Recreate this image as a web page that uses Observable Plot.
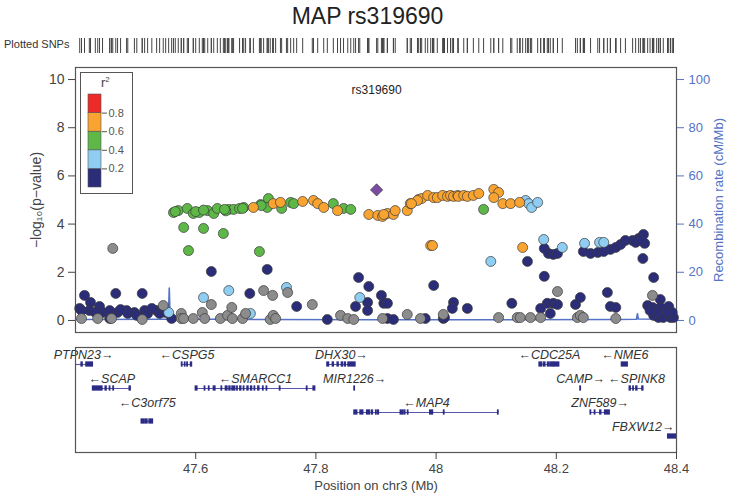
<!DOCTYPE html>
<html><head><meta charset="utf-8">
<script src="https://cdn.jsdelivr.net/npm/d3@7"></script>
<script src="https://cdn.jsdelivr.net/npm/@observablehq/plot@0.6"></script>
<style>
body{margin:0;background:#fff;}
#wrap{position:relative;width:735px;height:496px;font-family:"Liberation Sans",Arial,sans-serif;color:#222;overflow:hidden;}
.abs{position:absolute;}
</style></head>
<body><div id="wrap"></div>
<script>
// ---------------- DATA ----------------
const title = "MAP rs319690";
const indexSNP = {name: "rs319690", pos: 47.901, logp: 5.42};
const xTicks = [47.6, 47.8, 48.0, 48.2, 48.4];
const yTicks = [0, 2, 4, 6, 8, 10];
const recombTicks = [0, 20, 40, 60, 80, 100];
const r2Breaks = [0, 0.2, 0.4, 0.6, 0.8, 1.0];
const r2Colors = ["#2b2d78", "#8fcdf2", "#5db848", "#f9a431", "#ec2a26"];
const naColor = "#8c8c8c";

// SNPs by LD bin: [position (Mb), -log10 p]
const snpsR2_0_02 = [
 [47.407,0.50],[47.415,1.04],[47.425,0.75],[47.423,0.41],[47.440,0.58],[47.445,0.33],[47.457,0.41],[47.457,0.08],
 [47.467,1.12],[47.470,0.33],[47.485,0.41],[47.487,0.29],[47.498,0.33],[47.502,0.21],[47.511,1.12],[47.515,0.41],
 [47.520,0.29],[47.535,0.41],[47.540,0.29],[47.560,0.08],[47.410,0.41],[47.433,0.33],[47.475,0.45],[47.527,0.50],
 [47.550,0.33],[47.626,2.03],[47.719,2.12],[47.690,1.12],[47.768,0.58],[47.819,0.04],[47.871,1.78],[47.888,1.41],
 [47.866,0.58],[47.886,0.75],[47.886,0.41],[47.909,1.04],[47.913,0.71],[47.919,0.71],[47.919,0.08],[47.929,0.04],
 [47.982,0.08],[47.996,1.45],[48.012,0.08],[48.029,0.75],[48.027,0.50],[48.052,0.50],[48.014,0.12],[48.126,0.71],
 [48.152,2.45],[48.180,2.99],[48.187,2.78],[48.195,2.74],[48.202,2.78],[48.180,1.83],[48.185,0.71],[48.195,0.71],
 [48.202,0.66],[48.174,0.50],[48.190,0.29],[48.245,2.86],[48.257,2.78],[48.269,2.82],[48.279,2.86],[48.290,2.95],
 [48.299,3.03],[48.307,3.15],[48.315,3.32],[48.327,3.32],[48.337,3.40],[48.345,3.57],[48.347,3.20],[48.344,2.57],
 [48.332,3.24],[48.340,3.32],[48.240,0.95],[48.232,0.66],[48.285,1.16],[48.290,0.58],[48.299,0.54],[48.362,1.78],
 [48.352,0.62],[48.360,0.54],[48.373,0.87],[48.373,0.54],[48.387,0.58],[48.362,0.21],[48.370,0.12],[48.378,0.12],
 [48.390,0.12],[48.395,0.12],[48.367,0.33],[48.385,0.33],[48.393,0.33],[48.356,0.41]
];
const snpsR2_02_04 = [
 [47.555,0.33],[47.613,0.95],[47.655,1.24],[47.691,0.29],[47.751,1.37],[47.873,0.95],[48.091,2.45],[48.149,4.98],
 [48.154,4.85],[48.159,4.69],[48.169,4.90],[48.179,3.36],[48.210,3.03],[48.247,3.20],[48.272,3.24],[48.279,3.24]
];
const snpsR2_04_06 = [
 [47.563,4.48],[47.571,4.56],[47.586,4.65],[47.596,4.44],[47.606,4.48],[47.620,4.56],[47.630,4.44],[47.636,4.65],
 [47.655,4.61],[47.663,4.61],[47.673,4.65],[47.680,4.69],[47.708,4.81],[47.721,5.06],[47.719,4.69],[47.743,4.65],
 [47.758,4.90],[47.763,4.85],[47.829,4.85],[47.846,4.65],[47.858,4.61],[48.079,4.61],[47.580,3.86],[47.613,3.82],
 [47.646,3.61],[47.588,2.90],[47.706,2.86],[47.566,4.52],[47.600,4.52],[47.613,4.58],[47.650,4.55],[47.648,4.61],
 [47.678,4.65],[47.709,4.77]
];
const snpsR2_06_08 = [
 [47.696,4.69],[47.729,4.85],[47.741,4.90],[47.778,4.94],[47.796,4.98],[47.803,4.85],[47.813,4.69],[47.836,4.56],
 [47.888,4.40],[47.903,4.36],[47.911,4.32],[47.919,4.44],[47.929,4.40],[47.932,4.56],[47.913,4.40],[47.952,4.56],
 [47.957,4.85],[47.971,5.02],[47.976,5.06],[47.986,5.19],[47.996,5.10],[48.002,5.10],[48.011,5.19],[48.019,5.15],
 [48.024,5.19],[48.029,5.15],[48.036,5.19],[48.037,5.15],[48.046,5.19],[48.052,5.15],[48.062,5.19],[48.071,5.27],
 [48.096,5.44],[48.104,5.31],[48.096,5.10],[48.111,4.85],[48.124,4.85],[48.139,4.90],[47.991,3.11],[47.994,3.11],
 [48.144,3.03],[47.969,4.98],[47.959,4.85]
];
const snpsR2_NA = [
 [47.462,2.99],[47.410,0.08],[47.437,0.08],[47.460,0.08],[47.511,0.04],[47.546,0.62],[47.576,0.29],[47.576,0.08],
 [47.580,0.08],[47.596,0.08],[47.611,0.33],[47.615,0.08],[47.626,0.66],[47.641,0.08],[47.653,0.21],[47.660,0.54],
 [47.661,0.08],[47.678,0.08],[47.683,0.29],[47.713,1.24],[47.728,1.04],[47.753,1.16],[47.724,0.04],[47.729,0.21],
 [47.733,0.08],[47.794,0.66],[47.841,0.21],[47.853,0.08],[47.863,0.04],[47.911,0.08],[47.952,0.25],[47.974,0.08],
 [48.012,0.25],[48.104,0.12],[48.135,0.12],[48.140,0.12],[48.157,0.12],[48.174,0.12],[48.202,1.20],[48.235,0.12],
 [48.240,0.21],[48.245,0.12],[48.299,0.08],[48.360,1.04]
];

// recombination rate: [position (Mb), cM/Mb]
const recombPos  = [47.400,47.550,47.5545,47.556,47.5575,47.700,47.900,48.100,48.300,48.3335,48.335,48.3365,48.400];
const recombRate = [0.4,   0.5,   0.5,    13.4,  0.6,    0.4,   0.3,   0.3,   0.4,   0.5,    2.8,   0.6,    0.5];

// genes: name, start, end, strand, row, labelRow
const geneNames  = ["PTPN23","CSPG5","DHX30","CDC25A","NME6","SCAP","SMARCC1","MIR1226","CAMP","SPINK8","C3orf75","MAP4","ZNF589","FBXW12"];
const geneStart  = [47.398,47.577,47.819,48.172,48.309,47.429,47.600,47.864,48.240,48.322,47.510,47.864,48.257,48.386];
const geneEnd    = [47.429,47.594,47.866,48.205,48.319,47.492,47.799,47.865,48.241,48.345,47.529,48.104,48.289,48.401];
const geneStrand = ["+","-","+","-","-","-","-","+","+","-","-","-","+","+"];
const geneRow    = [1,1,1,1,1,2,2,2,2,2,3.375,3,3,4];
const geneLabelRow=[1,1,1,1,1,2,2,2,2,2,3,3,3,4];
// exons: [gene index, start, end]
const exons = [
 [0,47.410,47.412],[0,47.418,47.429],
 [1,47.577,47.578],[1,47.582,47.583],[1,47.586,47.587],[1,47.592,47.594],
 [2,47.819,47.822],[2,47.828,47.830],[2,47.836,47.838],[2,47.843,47.845],[2,47.848,47.850],[2,47.854,47.866],
 [3,48.172,48.176],[3,48.179,48.182],[3,48.186,48.188],[3,48.190,48.196],[3,48.197,48.205],
 [4,48.309,48.319],
 [5,47.429,47.445],[5,47.450,47.452],[5,47.457,47.458],[5,47.463,47.464],[5,47.490,47.492],
 [6,47.600,47.603],[6,47.615,47.616],[6,47.622,47.623],[6,47.630,47.633],[6,47.643,47.644],[6,47.650,47.653],
 [6,47.656,47.658],[6,47.661,47.666],[6,47.669,47.670],[6,47.674,47.676],[6,47.680,47.681],[6,47.686,47.688],
 [6,47.692,47.694],[6,47.698,47.699],[6,47.704,47.706],[6,47.712,47.713],[6,47.718,47.719],[6,47.740,47.741],
 [6,47.785,47.786],[6,47.796,47.799],
 [7,47.864,47.865],
 [8,48.240,48.241],
 [9,48.322,48.324],[9,48.328,48.329],[9,48.333,48.335],[9,48.343,48.345],
 [10,47.510,47.514],[10,47.516,47.520],[10,47.523,47.529],
 [11,47.864,47.869],[11,47.874,47.879],[11,47.885,47.890],[11,47.893,47.895],[11,47.900,47.901],[11,47.903,47.905],
 [11,47.941,47.946],[11,47.948,47.949],[11,47.953,47.954],[11,47.990,47.995],[11,48.013,48.014],[11,48.103,48.104],
 [12,48.257,48.258],[12,48.264,48.265],[12,48.273,48.275],[12,48.281,48.289],
 [13,48.386,48.401]
];

// ---------------- BUILD ----------------
const FONT = "'Liberation Sans', Arial, sans-serif";
const BLUE = "#5473c6";
const wrap = document.getElementById("wrap");
const bins = [snpsR2_0_02, snpsR2_02_04, snpsR2_04_06, snpsR2_06_08];
const snps = [];
bins.forEach((arr, i) => arr.forEach(([pos, logp]) => snps.push({pos, logp, r2: (r2Breaks[i] + r2Breaks[i+1]) / 2})));
snpsR2_NA.forEach(([pos, logp]) => snps.push({pos, logp, r2: null}));
const colorOf = d => {
  if (d.r2 == null) return naColor;
  for (let i = 0; i < r2Colors.length; i++) if (d.r2 < r2Breaks[i+1]) return r2Colors[i];
  return r2Colors[r2Colors.length - 1];
};
const recomb = recombPos.map((p, i) => ({pos: p, rate: recombRate[i]}));
const genes = geneNames.map((n, i) => ({name: n, start: geneStart[i], end: geneEnd[i], strand: geneStrand[i], row: geneRow[i], labelRow: geneLabelRow[i],
  label: geneStrand[i] === "+" ? n + "\u2192" : "\u2190" + n}));
const exonRows = exons.map(([g, s, e]) => ({row: genes[g].row, start: s, end: e}));
const xDomain = [47.4, 48.4];
const ML = 75, MR = 59;

function place(el, left, top) { el.classList.add("abs"); el.style.left = left + "px"; el.style.top = top + "px"; wrap.appendChild(el); return el; }

// title
const t = document.createElement("div");
t.textContent = title;
t.style.cssText = "width:735px;text-align:center;font-size:23px;color:#222;";
place(t, 0, 3);

const ps = document.createElement("div");
ps.textContent = "Plotted SNPs";
ps.style.cssText = "font-size:11px;color:#333;";
place(ps, 4, 38);

// rug of plotted SNPs
const allPos = snps.map(d => d.pos).concat([indexSNP.pos]);
const rug = Plot.plot({
  width: 735, height: 15, marginLeft: ML, marginRight: MR, marginTop: 0, marginBottom: 0,
  x: {domain: xDomain, axis: null}, y: {axis: null},
  style: {background: "transparent"},
  marks: [Plot.tickX(allPos, {x: d => d, stroke: "#444", strokeWidth: 1})]
});
place(rug, 0, 38);

// main plot
const main = Plot.plot({
  width: 735, height: 285, marginLeft: ML, marginRight: MR, marginTop: 7, marginBottom: 13,
  x: {domain: xDomain, axis: null},
  y: {domain: [-0.5, 10.5], axis: null},
  style: {background: "transparent", fontFamily: FONT, fontSize: "13px", color: "#333"},
  marks: [
    Plot.frame({stroke: "#555", strokeWidth: 1.2}),
    Plot.axisY({ticks: yTicks, tickSize: 7, tickPadding: 4, fontSize: 14, color: "#444",
      label: "\u2212log\u2081\u2080(p\u2212value)", labelAnchor: "center", labelArrow: "none", labelOffset: 44}),
    Plot.axisY({anchor: "right", ticks: recombTicks.map(v => v / 10), tickFormat: d => String(Math.round(d * 10)),
      tickSize: 7, tickPadding: 5, fontSize: 13, color: BLUE,
      label: "Recombination rate (cM/Mb)", labelAnchor: "center", labelArrow: "none", labelOffset: 46}),
    Plot.line(recomb, {x: "pos", y: d => d.rate / 10, stroke: BLUE, strokeWidth: 1.6}),
    Plot.dot(snps, {x: "pos", y: "logp", r: 5, fill: colorOf, stroke: "#3a3a3a", strokeWidth: 0.7}),
    Plot.dot([indexSNP], {x: "pos", y: "logp", symbol: "diamond2", r: 5.5, fill: "#7a4ca2", stroke: "#3a3a3a", strokeWidth: 0.7}),
    Plot.text([indexSNP], {x: "pos", frameAnchor: "top", dy: 18, text: "name", fontSize: 12, fill: "#222"})
  ]
});
place(main, 0, 60);

// legend
const legBox = document.createElement("div");
legBox.style.cssText = "width:51px;height:120px;border:1px solid #555;background:#fff;";
place(legBox, 80, 72);
const legTitle = document.createElement("div");
legTitle.innerHTML = "r<sup style='font-size:8px'>2</sup>";
legTitle.style.cssText = "position:absolute;left:20px;top:2px;font-size:13px;color:#444;";
legBox.appendChild(legTitle);
const legData = r2Colors.map((c, i) => ({lo: r2Breaks[i], hi: r2Breaks[i+1], color: c}));
const legend = Plot.plot({
  width: 51, height: 120, marginLeft: 7, marginRight: 31, marginTop: 21, marginBottom: 6,
  x: {domain: [0, 1], axis: null}, y: {domain: [0, 1], axis: null},
  style: {background: "transparent", fontFamily: FONT, fontSize: "11px"},
  marks: [
    Plot.rect(legData, {x1: 0, x2: 1, y1: "lo", y2: "hi", fill: "color", stroke: "#555", strokeWidth: 0.6}),
    Plot.axisY({anchor: "right", ticks: r2Breaks.slice(1, -1), tickSize: 5, tickPadding: 2, fontSize: 11, color: "#555", label: null})
  ]
});
legend.style.position = "absolute"; legend.style.left = "0px"; legend.style.top = "0px";
legBox.appendChild(legend);

// genes panel
const geneLabelX = d => (d.start + d.end) / 2;
const gene = Plot.plot({
  width: 735, height: 156, marginLeft: ML, marginRight: MR, marginTop: 7, marginBottom: 44,
  x: {domain: xDomain, clamp: true},
  y: {domain: [4.667, 0.2917], axis: null},
  style: {background: "transparent", fontFamily: FONT, fontSize: "12px", color: "#444"},
  marks: [
    Plot.ruleY(genes, {x1: d => Math.max(d.start, xDomain[0]), x2: d => Math.min(d.end, xDomain[1]), y: "row", stroke: "#5656ac", strokeWidth: 1.1}),
    Plot.rect(exonRows, {x1: "start", x2: "end", y1: d => d.row - 0.11, y2: d => d.row + 0.11, fill: "#2b2b86", insetLeft: -0.6, insetRight: -0.6}),
    Plot.text(genes.filter(d => geneLabelX(d) < 48.37), {x: geneLabelX, y: "labelRow", dy: -9, text: "label", fontStyle: "italic", fontSize: 12.5, fill: "#333"}),
    Plot.text(genes.filter(d => geneLabelX(d) >= 48.37), {x: () => xDomain[1], y: "labelRow", dy: -9, dx: -2, textAnchor: "end", text: "label", fontStyle: "italic", fontSize: 12.5, fill: "#333"}),
    Plot.frame({stroke: "#555", strokeWidth: 1.2}),
    Plot.axisX({ticks: xTicks, tickSize: 7, tickPadding: 4, fontSize: 13, color: "#444",
      tickFormat: d => String(+d.toFixed(1)),
      label: "Position on chr3 (Mb)", labelAnchor: "center", labelArrow: "none", labelOffset: 37})
  ]
});
place(gene, 0, 340);
</script></body></html>
